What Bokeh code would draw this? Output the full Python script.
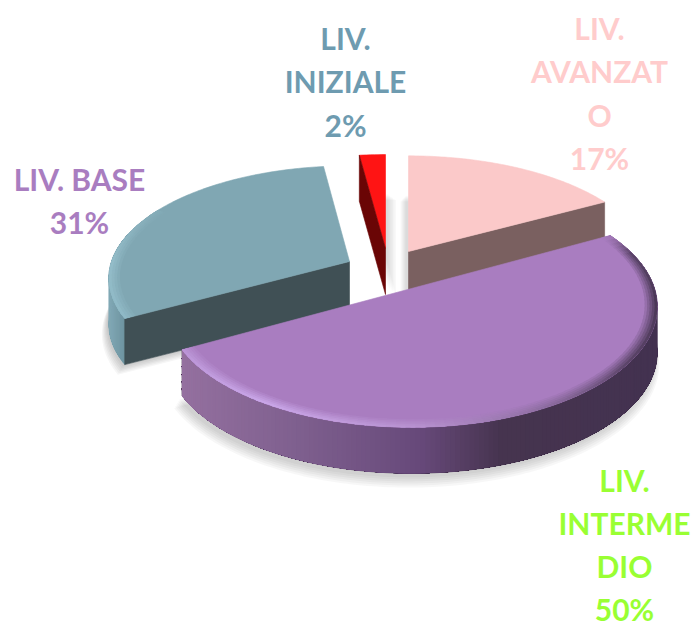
import math
from bokeh.plotting import figure
from bokeh.models import Range1d
from bokeh.core.properties import value
from bokeh.embed import file_html
from bokeh.resources import INLINE

# ---- chart data
categories = ["LIV. AVANZATO", "LIV. INTERMEDIO", "LIV. BASE", "LIV. INIZIALE"]
shares = [17, 50, 31, 2]
label_lines = [["LIV.", "AVANZAT", "O"], ["LIV.", "INTERME", "DIO"], ["LIV. BASE"], ["LIV.", "INIZIALE"]]
top_colors = ["#FBC9C9", "#A97DC0", "#80A7B3", "#FF1414"]
side_colors = ["#7A6060", "#45344F", "#405055", "#6A0505"]
label_colors = ["#FFCCCC", "#99FF33", "#A97DC0", "#6E9BB0"]

# ---- layout of the exploded pie, in page pixels
W, H = 697, 626
K = 0.15
DEPTH = 46
apex = [(408, 251), (411, 288), (349, 261), (385, 248)]
radii = [(240, 110), (243, 118), (238, 110), (240, 108)]
label_pos = [(599, 27), (624, 479), (79, 178), (345, 37)]
line_gap = [43.5, 43, 43.5, 43.5]

p = figure(width=W, height=H, output_backend="svg", toolbar_location=None,
           x_range=Range1d(0, W), y_range=Range1d(H, 0),
           min_border=0, outline_line_color=None, background_fill_color="white",
           border_fill_color="white")
p.axis.visible = False
p.grid.visible = False

total = sum(shares)
angles = [0.0]
for s in shares:
    angles.append(angles[-1] + 360.0 * s / total)


def pt(i, deg, r=1.0, dx=0.0, dy=0.0):
    t = math.radians(deg)
    X, Y = r * math.sin(t), -r * math.cos(t)
    w = 1 - K * Y
    return apex[i][0] + radii[i][0] * X / w + dx, apex[i][1] + radii[i][1] * Y / w + dy


def arc(i, a, b, r=1.0, dx=0.0, dy=0.0, step=1.0):
    n = max(2, int(abs(b - a) / step))
    return [pt(i, a + (b - a) * j / n, r, dx, dy) for j in range(n + 1)]


def hexrgb(c):
    return tuple(int(c[k:k + 2], 16) for k in (1, 3, 5))


def mix(c1, c2, t):
    a, b = hexrgb(c1), hexrgb(c2)
    return "#%02x%02x%02x" % tuple(round(a[k] + (b[k] - a[k]) * t) for k in range(3))


def ramp(stops, v):
    if v <= stops[0][0]:
        return stops[0][1]
    for (v0, c0), (v1, c1) in zip(stops, stops[1:]):
        if v <= v1:
            return mix(c0, c1, (v - v0) / (v1 - v0))
    return stops[-1][1]


def poly(pts, color, alpha=1.0, line=True):
    p.patch([q[0] for q in pts], [q[1] for q in pts], fill_color=color, fill_alpha=alpha,
            line_color=color if line else None, line_alpha=alpha, line_width=0.6)


def strips(xs, ys, colors):
    p.patches(xs, ys, fill_color=colors, line_color=None)


def slice_pts(i, r=1.0, dx=0.0, dy=0.0):
    return [pt(i, 0, 0, dx, dy)] + arc(i, angles[i], angles[i + 1], r, dx, dy)


def chord_face(i, deg, color):
    a, b = pt(i, 0, 0), pt(i, deg)
    poly([a, b, (b[0], b[1] + DEPTH), (a[0], a[1] + DEPTH)], color)


def rim(i, a, b, stops):
    # colour bands running from the far end of the arc, each one overlapping the next
    n = int(abs(b - a) / 1.0)
    outline = arc(i, a, b)
    mid = ramp(stops, outline[len(outline) // 2][0])
    poly(outline + [(q[0], q[1] + DEPTH) for q in reversed(outline)], mid)
    xs, ys, cs = [], [], []
    for j in range(n):
        t0, t1 = a + (b - a) * j / n, a + (b - a) * (j + 1) / n
        seg = arc(i, t0, b, step=4.0)
        xs.append([q[0] for q in seg] + [q[0] for q in reversed(seg)])
        ys.append([q[1] for q in seg] + [q[1] + DEPTH for q in reversed(seg)])
        q0, q1 = pt(i, t0), pt(i, t1)
        cs.append(ramp(stops, (q0[0] + q1[0]) / 2))
    strips(xs, ys, cs)


def bevel(i, a, b, stops, face, width=0.05, layers=5):
    for l in range(layers):
        r0 = 1 - width * (1 - l / layers)
        xs, ys, cs = [], [], []
        n = int(abs(b - a) / 2.0)
        for j in range(n):
            t0, t1 = a + (b - a) * j / n, a + (b - a) * (j + 1) / n
            t2 = min(t1 + 1, b) if b > a else t1
            q = [pt(i, t0, r0), pt(i, t2, r0), pt(i, t2, 1.0), pt(i, t0, 1.0)]
            xs.append([c[0] for c in q])
            ys.append([c[1] for c in q])
            cs.append(mix(face, ramp(stops, (t0 + t1) / 2), (l + 1) / layers))
        strips(xs, ys, cs)


def shadow(i, dx, dy, grow_x=0.0, layers=6, alpha=0.035):
    for l in range(layers):
        pts = slice_pts(i, 1 + 0.004 * l, dx + grow_x * l, dy + l * 1.4)
        poly(pts, "#000000", alpha, line=False)


# shadows on the white ground
shadow(2, -2, DEPTH + 2)
shadow(0, -3, DEPTH - 6, grow_x=-1.0, alpha=0.022)
shadow(3, 3, DEPTH - 6, grow_x=1.5, alpha=0.022)
shadow(1, -3, DEPTH + 4, alpha=0.03)

# pink slice
chord_face(0, angles[1], side_colors[0])
poly(slice_pts(0), top_colors[0])

# teal slice
rim(2, angles[2], 285, [(100, "#8DB5C2"), (125, "#6C929E"), (140, "#5F828D")])
chord_face(2, angles[2], side_colors[2])
poly(slice_pts(2), top_colors[2])
bevel(2, angles[2], 300, [(241, "#8FB9C6"), (270, "#93BCC8"), (300, "#84ABB7")], top_colors[2], width=0.045, layers=4)

# red slice
poly(slice_pts(3), top_colors[3])
chord_face(3, angles[3], side_colors[3])

# purple slice
rim(1, angles[1], angles[2], [(182, "#94709F"), (300, "#7E5F8E"), (420, "#67497A"),
                              (500, "#46344F"), (660, "#433250")])
poly(slice_pts(1), top_colors[1])
bevel(1, angles[1], angles[2],
      [(61, "#A97DC0"), (72, "#5A4468"), (95, "#4A3856"), (125, "#5B4468"), (150, "#8B6B9E"),
       (178, "#B791CF"), (212, "#C9A6E8"), (241, "#BB95D6")],
      top_colors[1])

# labels
for pos, gap, lines, share, color in zip(label_pos, line_gap, label_lines, shares, label_colors):
    for k, line in enumerate(lines + [f"{share}%"]):
        p.text([pos[0]], [pos[1] + k * gap], text=[line], text_color=color,
               text_font=value("Lato"), text_font_style="bold", text_font_size="30px",
               text_align="center", text_baseline="middle")

open("out.html", "w").write(file_html(p, INLINE))
